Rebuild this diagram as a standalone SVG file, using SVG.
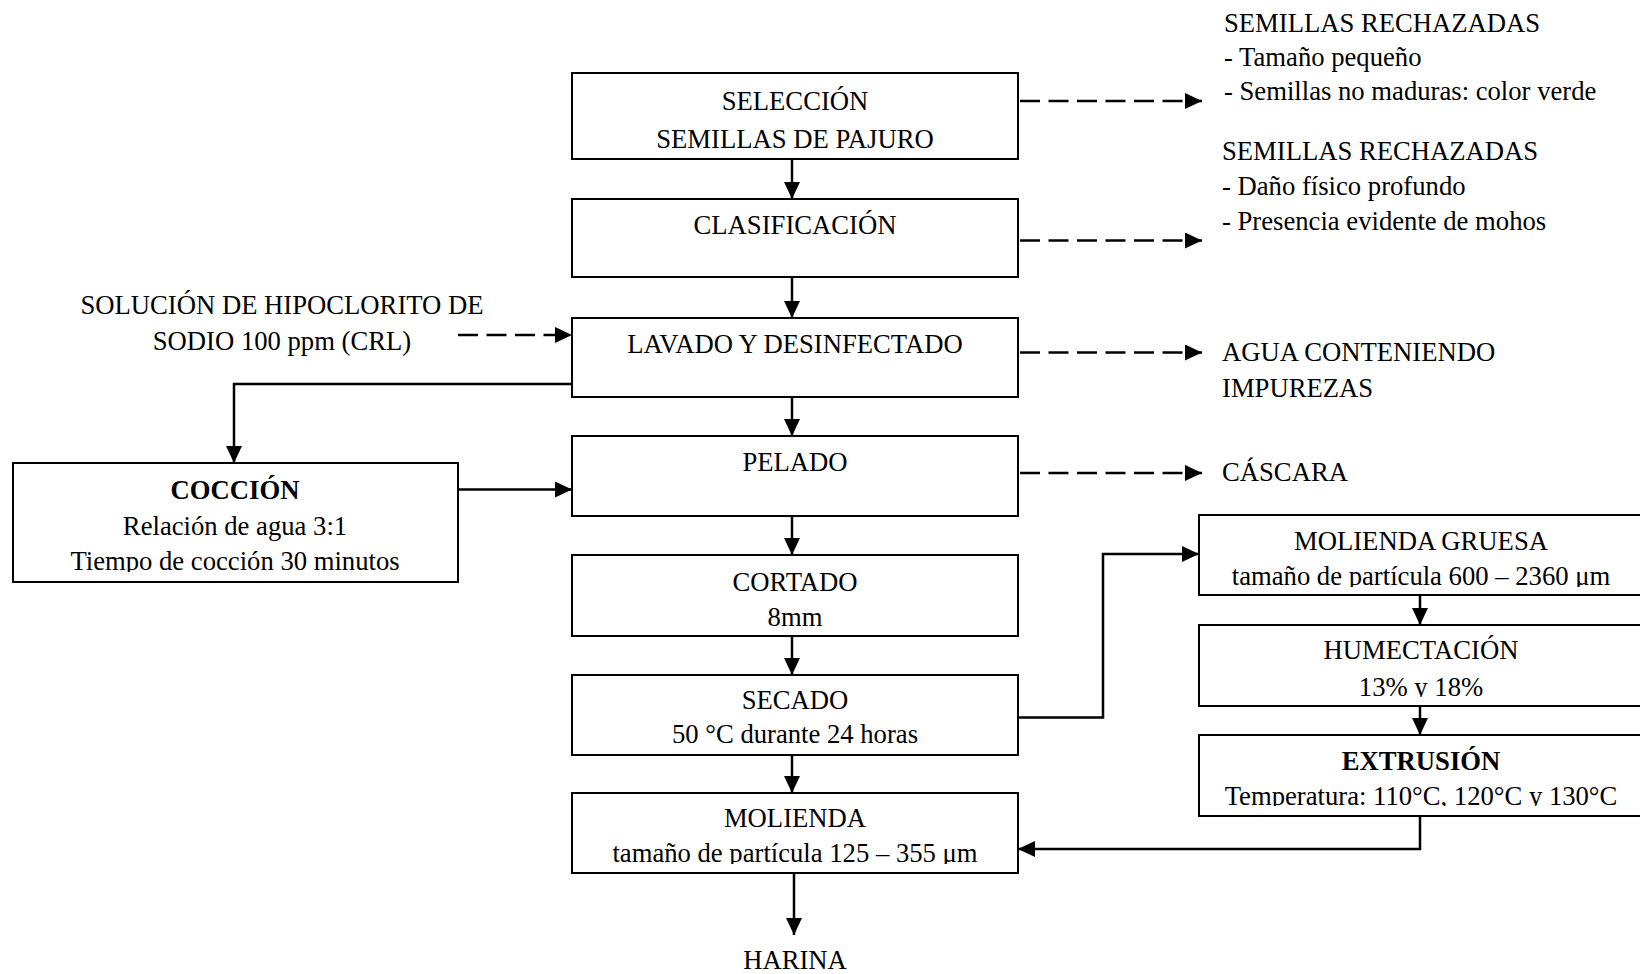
<svg xmlns="http://www.w3.org/2000/svg" width="1640" height="974" viewBox="0 0 1640 974">
<style>
  .box { fill: #ffffff; stroke: #000000; stroke-width: 2; }
  text { font-family: "Liberation Serif", "Times New Roman", serif; font-size: 26.67px; fill: #000000; }
  .c { text-anchor: middle; }
  .b { font-weight: bold; }
  .ln { fill: none; stroke: #000000; stroke-width: 2.5; }
  .dash { fill: none; stroke: #000000; stroke-width: 2.5; stroke-dasharray: 20 8.5; }
</style>
<defs>
  <marker id="ah" viewBox="0 0 17 16" refX="17" refY="8" markerWidth="17" markerHeight="16" markerUnits="userSpaceOnUse" orient="auto">
    <path d="M0,0 L17,8 L0,16 Z" fill="#000000"/>
  </marker>
  <clipPath id="clipMol"><rect x="572" y="793" width="446" height="71"/></clipPath>
  <clipPath id="clipCoc"><rect x="13" y="463" width="445" height="109"/></clipPath>
  <clipPath id="clipMG"><rect x="1199" y="515" width="446" height="72"/></clipPath>
  <clipPath id="clipHum"><rect x="1199" y="625" width="446" height="72"/></clipPath>
  <clipPath id="clipExt"><rect x="1199" y="735" width="446" height="71"/></clipPath>
</defs>
<rect width="1640" height="974" fill="#ffffff"/>

<g id="connectors">
  <line class="ln" x1="792" y1="159" x2="792" y2="199" marker-end="url(#ah)"/>
  <line class="ln" x1="792" y1="277" x2="792" y2="318" marker-end="url(#ah)"/>
  <line class="ln" x1="792" y1="397" x2="792" y2="436" marker-end="url(#ah)"/>
  <line class="ln" x1="792" y1="516" x2="792" y2="555" marker-end="url(#ah)"/>
  <line class="ln" x1="792" y1="636" x2="792" y2="675" marker-end="url(#ah)"/>
  <line class="ln" x1="792" y1="755" x2="792" y2="793" marker-end="url(#ah)"/>
  <line class="ln" x1="794" y1="868" x2="794" y2="935" marker-end="url(#ah)"/>
  <line class="dash" x1="1020" y1="101" x2="1202" y2="101" marker-end="url(#ah)"/>
  <line class="dash" x1="1020" y1="240.5" x2="1202" y2="240.5" marker-end="url(#ah)"/>
  <line class="dash" x1="1020" y1="352.5" x2="1202" y2="352.5" marker-end="url(#ah)"/>
  <line class="dash" x1="1020" y1="473" x2="1202" y2="473" marker-end="url(#ah)"/>
  <line class="dash" x1="458" y1="335" x2="572" y2="335" marker-end="url(#ah)"/>
  <polyline class="ln" points="572,384 234,384 234,463" marker-end="url(#ah)"/>
  <line class="ln" x1="458" y1="489.5" x2="572" y2="489.5" marker-end="url(#ah)"/>
  <polyline class="ln" points="1018,717.5 1103,717.5 1103,554 1199,554" marker-end="url(#ah)"/>
  <line class="ln" x1="1420" y1="595" x2="1420" y2="625" marker-end="url(#ah)"/>
  <line class="ln" x1="1420" y1="706" x2="1420" y2="735" marker-end="url(#ah)"/>
  <polyline class="ln" points="1420,816 1420,849 1018,849" marker-end="url(#ah)"/>
</g>

<g id="seleccion">
  <rect class="box" x="572" y="73" width="446" height="86"/>
  <text class="c" x="795" y="110">SELECCIÓN</text>
  <text class="c" x="795" y="147.5">SEMILLAS DE PAJURO</text>
</g>
<g id="clasificacion">
  <rect class="box" x="572" y="199" width="446" height="78"/>
  <text class="c" x="795" y="233.5">CLASIFICACIÓN</text>
</g>
<g id="lavado">
  <rect class="box" x="572" y="318" width="446" height="79"/>
  <text class="c" x="795" y="352.5">LAVADO Y DESINFECTADO</text>
</g>
<g id="pelado">
  <rect class="box" x="572" y="436" width="446" height="80"/>
  <text class="c" x="795" y="471">PELADO</text>
</g>
<g id="cortado">
  <rect class="box" x="572" y="555" width="446" height="81"/>
  <text class="c" x="795" y="591">CORTADO</text>
  <text class="c" x="795" y="626">8mm</text>
</g>
<g id="secado">
  <rect class="box" x="572" y="675" width="446" height="80"/>
  <text class="c" x="795" y="709">SECADO</text>
  <text class="c" x="795" y="743">50 °C durante 24 horas</text>
</g>
<g id="molienda">
  <rect class="box" x="572" y="793" width="446" height="80"/>
  <text class="c" x="795" y="827">MOLIENDA</text>
  <text class="c" x="795" y="862" clip-path="url(#clipMol)">tamaño de partícula 125 – 355 μm</text>
</g>
<g id="harina">
  <text class="c" x="795" y="969">HARINA</text>
</g>
<g id="coccion">
  <rect class="box" x="13" y="463" width="445" height="119"/>
  <text class="c b" x="235" y="499">COCCIÓN</text>
  <text class="c" x="235" y="534.5">Relación de agua 3:1</text>
  <text class="c" x="235" y="570" clip-path="url(#clipCoc)">Tiempo de cocción 30 minutos</text>
</g>
<g id="solucion">
  <text class="c" x="282" y="314">SOLUCIÓN DE HIPOCLORITO DE</text>
  <text class="c" x="282" y="350">SODIO 100 ppm (CRL)</text>
</g>
<g id="rechazadas1">
  <text x="1224" y="31.5">SEMILLAS RECHAZADAS</text>
  <text x="1224" y="66">- Tamaño pequeño</text>
  <text x="1224" y="100">- Semillas no maduras: color verde</text>
</g>
<g id="rechazadas2">
  <text x="1222" y="160">SEMILLAS RECHAZADAS</text>
  <text x="1222" y="195">- Daño físico profundo</text>
  <text x="1222" y="230">- Presencia evidente de mohos</text>
</g>
<g id="agua">
  <text x="1222" y="361">AGUA CONTENIENDO</text>
  <text x="1222" y="397">IMPUREZAS</text>
</g>
<g id="cascara">
  <text x="1222" y="481">CÁSCARA</text>
</g>
<g id="molienda-gruesa">
  <rect class="box" x="1199" y="515" width="446" height="80"/>
  <text class="c" x="1421" y="549.5">MOLIENDA GRUESA</text>
  <text class="c" x="1421" y="585" clip-path="url(#clipMG)">tamaño de partícula 600 – 2360 μm</text>
</g>
<g id="humectacion">
  <rect class="box" x="1199" y="625" width="446" height="81"/>
  <text class="c" x="1421" y="659">HUMECTACIÓN</text>
  <text class="c" x="1421" y="695.5" clip-path="url(#clipHum)">13% y 18%</text>
</g>
<g id="extrusion">
  <rect class="box" x="1199" y="735" width="446" height="81"/>
  <text class="c b" x="1421" y="770">EXTRUSIÓN</text>
  <text class="c" x="1421" y="804.5" clip-path="url(#clipExt)">Temperatura: 110°C, 120°C y 130°C</text>
</g>
</svg>
